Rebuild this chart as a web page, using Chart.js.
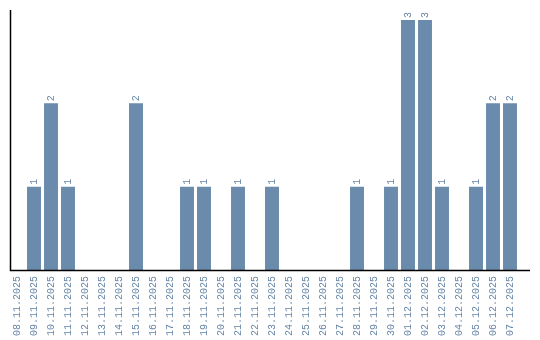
<!DOCTYPE html>
<html>
<head>
<meta charset="utf-8">
<script src="https://cdn.jsdelivr.net/npm/chart.js@4/dist/chart.umd.min.js"></script>
<style>
  html, body { margin: 0; padding: 0; background: #fff; }
  #wrap { width: 540px; height: 340px; }
</style>
</head>
<body>
<div id="wrap"><canvas id="chart1"></canvas></div>
<script>
const dates = ['08.11.2025', '09.11.2025', '10.11.2025', '11.11.2025', '12.11.2025', '13.11.2025',
    '14.11.2025', '15.11.2025', '16.11.2025', '17.11.2025', '18.11.2025', '19.11.2025',
    '20.11.2025', '21.11.2025', '22.11.2025', '23.11.2025', '24.11.2025', '25.11.2025',
    '26.11.2025', '27.11.2025', '28.11.2025', '29.11.2025', '30.11.2025', '01.12.2025',
    '02.12.2025', '03.12.2025', '04.12.2025', '05.12.2025', '06.12.2025', '07.12.2025'];
const counts = [0, 1, 2, 1, 0, 0, 0, 2, 0, 0, 1, 1, 0, 1, 0, 1, 0, 0, 0, 0, 1, 0, 1, 3, 3, 1, 0, 1, 2, 2];

const barColor = '#6a8bab';
const textColor = '#6786a7';
const monoFont = '"Liberation Mono", monospace';

// valeurs au-dessus des barres, texte tourne
const valueLabels = {
    id: 'valueLabels',
    afterDatasetsDraw(chart) {
        const ctx = chart.ctx;
        const meta = chart.getDatasetMeta(0);
        ctx.save();
        ctx.fillStyle = textColor;
        ctx.font = '10px ' + monoFont;
        ctx.textAlign = 'left';
        ctx.textBaseline = 'middle';
        meta.data.forEach((bar, i) => {
            if (!counts[i]) return;
            ctx.save();
            ctx.translate(bar.x, bar.y - 2);
            ctx.rotate(-Math.PI / 2);
            ctx.fillText(String(counts[i]), 0, 0);
            ctx.restore();
        });
        ctx.restore();
    }
};

// lignes des axes
const axisLines = {
    id: 'axisLines',
    afterDraw(chart) {
        const ctx = chart.ctx;
        const a = chart.chartArea;
        ctx.save();
        ctx.strokeStyle = '#000';
        ctx.lineWidth = 1.5;
        ctx.beginPath();
        ctx.moveTo(10.5, 10);
        ctx.lineTo(10.5, a.bottom + 0.5);
        ctx.lineTo(530, a.bottom + 0.5);
        ctx.stroke();
        ctx.restore();
    }
};

const ctx1 = document.getElementById('chart1').getContext('2d');
const myChart1 = new Chart(ctx1, {
    type: 'bar',
    data: {
        labels: dates,
        datasets: [{
            data: counts,
            backgroundColor: barColor,
            borderWidth: 0,
            barPercentage: 0.82,
            categoryPercentage: 1
        }]
    },
    options: {
        responsive: true,
        maintainAspectRatio: false,
        animation: false,
        layout: { padding: { left: 8.5, right: 21.5, top: 10, bottom: 0 } },
        plugins: { legend: { display: false }, tooltip: { enabled: false } },
        scales: {
            x: {
                grid: { display: false },
                border: { display: false },
                ticks: {
                    color: textColor,
                    font: { family: monoFont, size: 10 },
                    minRotation: 90,
                    maxRotation: 90,
                    autoSkip: false,
                    padding: -2
                },
                afterFit(scale) { scale.height = 70; }
            },
            y: {
                display: false,
                min: 0,
                max: 3.12
            }
        }
    },
    plugins: [valueLabels, axisLines]
});
</script>
</body>
</html>
